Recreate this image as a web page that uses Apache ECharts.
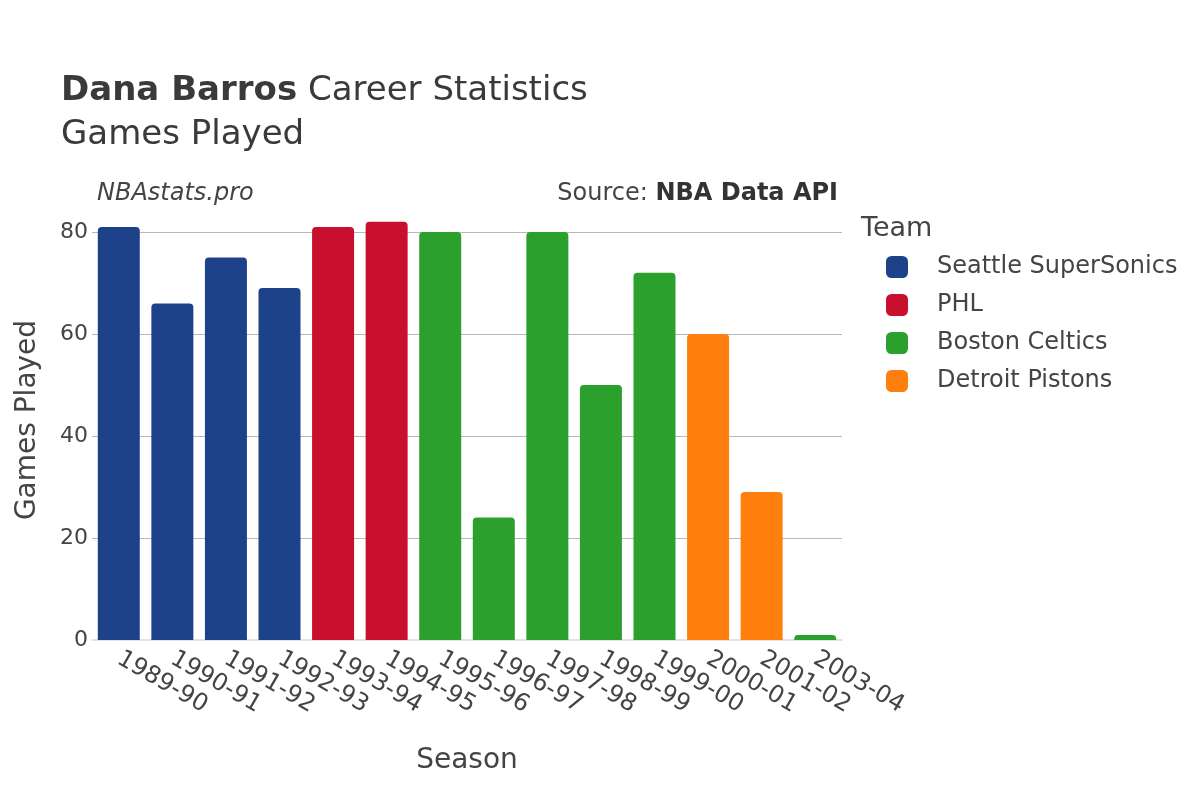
<!DOCTYPE html>
<html>
<head>
<meta charset="utf-8">
<script src="https://cdn.jsdelivr.net/npm/echarts@6/dist/echarts.min.js"></script>
<style>
  html, body { margin: 0; padding: 0; background: #fff; }
  #chart-container { width: 1200px; height: 800px; }
</style>
</head>
<body>
<div id="chart-container"></div>
<script>
var seasons = ['1989-90', '1990-91', '1991-92', '1992-93', '1993-94', '1994-95', '1995-96',
    '1996-97', '1997-98', '1998-99', '1999-00', '2000-01', '2001-02', '2003-04'];
var games = [81, 66, 75, 69, 81, 82, 80, 24, 80, 50, 72, 60, 29, 1];
var seasonTeam = ['Seattle SuperSonics', 'Seattle SuperSonics', 'Seattle SuperSonics', 'Seattle SuperSonics',
    'PHL', 'PHL', 'Boston Celtics', 'Boston Celtics', 'Boston Celtics', 'Boston Celtics',
    'Boston Celtics', 'Detroit Pistons', 'Detroit Pistons', 'Boston Celtics'];
var teams = ['Seattle SuperSonics', 'PHL', 'Boston Celtics', 'Detroit Pistons'];
var teamColors = ['#1d428a', '#c8102e', '#2ca02c', '#ff7f0e'];
var yTicks = [0, 20, 40, 60, 80];

(function () {
    var domChart = document.getElementById("chart-container");
    var ioChart = echarts.init(domChart);
    var fontFamily = 'DejaVu Sans';

    // one stacked series per team, empty where the team did not play that season
    var _seriesData = teams.map(function (team, i) {
        return {
            name: team,
            type: 'bar',
            stack: 'games',
            clip: false,
            barCategoryGap: '21.6%',
            itemStyle: {
                color: teamColors[i],
                borderRadius: [4, 4, 0, 0]
            },
            data: games.map(function (v, k) {
                return seasonTeam[k] === team ? v : '-';
            })
        };
    });

    var chartOption = {
        backgroundColor: '#fff',
        textStyle: { fontFamily: fontFamily },
        title: [
            {
                left: 56,
                top: 64,
                text: '{b|Dana Barros} Career Statistics\nGames Played',
                textStyle: {
                    fontFamily: fontFamily,
                    fontSize: 34,
                    fontWeight: 'normal',
                    color: '#3a3a3a',
                    lineHeight: 44,
                    rich: {
                        b: { fontFamily: fontFamily, fontSize: 34, fontWeight: 'bold', color: '#3a3a3a', lineHeight: 44 }
                    }
                }
            },
            {
                left: 92,
                top: 177,
                text: 'NBAstats.pro',
                textStyle: { fontFamily: fontFamily, fontSize: 24, fontStyle: 'italic', fontWeight: 'normal', color: '#444' }
            },
            {
                right: 357,
                top: 177,
                text: 'Source: {b|NBA Data API}',
                textStyle: {
                    fontFamily: fontFamily, fontSize: 24, fontWeight: 'normal', color: '#444',
                    rich: { b: { fontFamily: fontFamily, fontSize: 24, fontWeight: 'bold', color: '#333' } }
                }
            },
            {
                left: 856,
                top: 210,
                text: 'Team',
                textStyle: { fontFamily: fontFamily, fontSize: 27, fontWeight: 'normal', color: '#444' }
            }
        ],
        legend: {
            orient: 'vertical',
            left: 881,
            top: 250,
            itemWidth: 22,
            itemHeight: 22,
            itemGap: 14,
            icon: 'roundRect',
            data: teams,
            textStyle: { fontFamily: fontFamily, fontSize: 24, color: '#444', padding: [0, 0, 0, 24] }
        },
        grid: {
            left: 92,
            right: 358,
            top: 232,
            bottom: 160,
            containLabel: false
        },
        xAxis: {
            type: 'category',
            data: seasons,
            name: 'Season',
            nameLocation: 'middle',
            nameGap: 107,
            nameTextStyle: { fontFamily: fontFamily, fontSize: 28, color: '#444' },
            axisLine: { show: true, lineStyle: { color: '#e3e3e3', width: 2 } },
            axisTick: { show: false },
            axisLabel: {
                rotate: -30,
                interval: 0,
                margin: 17,
                fontFamily: fontFamily,
                fontSize: 24,
                color: '#444'
            }
        },
        yAxis: {
            type: 'value',
            min: yTicks[0],
            max: yTicks[yTicks.length - 1],
            interval: 20,
            name: 'Games Played',
            nameLocation: 'middle',
            nameGap: 50,
            nameTextStyle: { fontFamily: fontFamily, fontSize: 28, color: '#444', padding: [0, 0, 0, 32] },
            axisLine: { show: false },
            axisTick: { show: false },
            axisLabel: { margin: 4, fontFamily: fontFamily, fontSize: 22, color: '#444' },
            splitLine: { lineStyle: { color: '#b8b8b8', width: 1.2 } }
        },
        series: _seriesData
    };
    ioChart.setOption(chartOption);
})();
</script>
</body>
</html>
